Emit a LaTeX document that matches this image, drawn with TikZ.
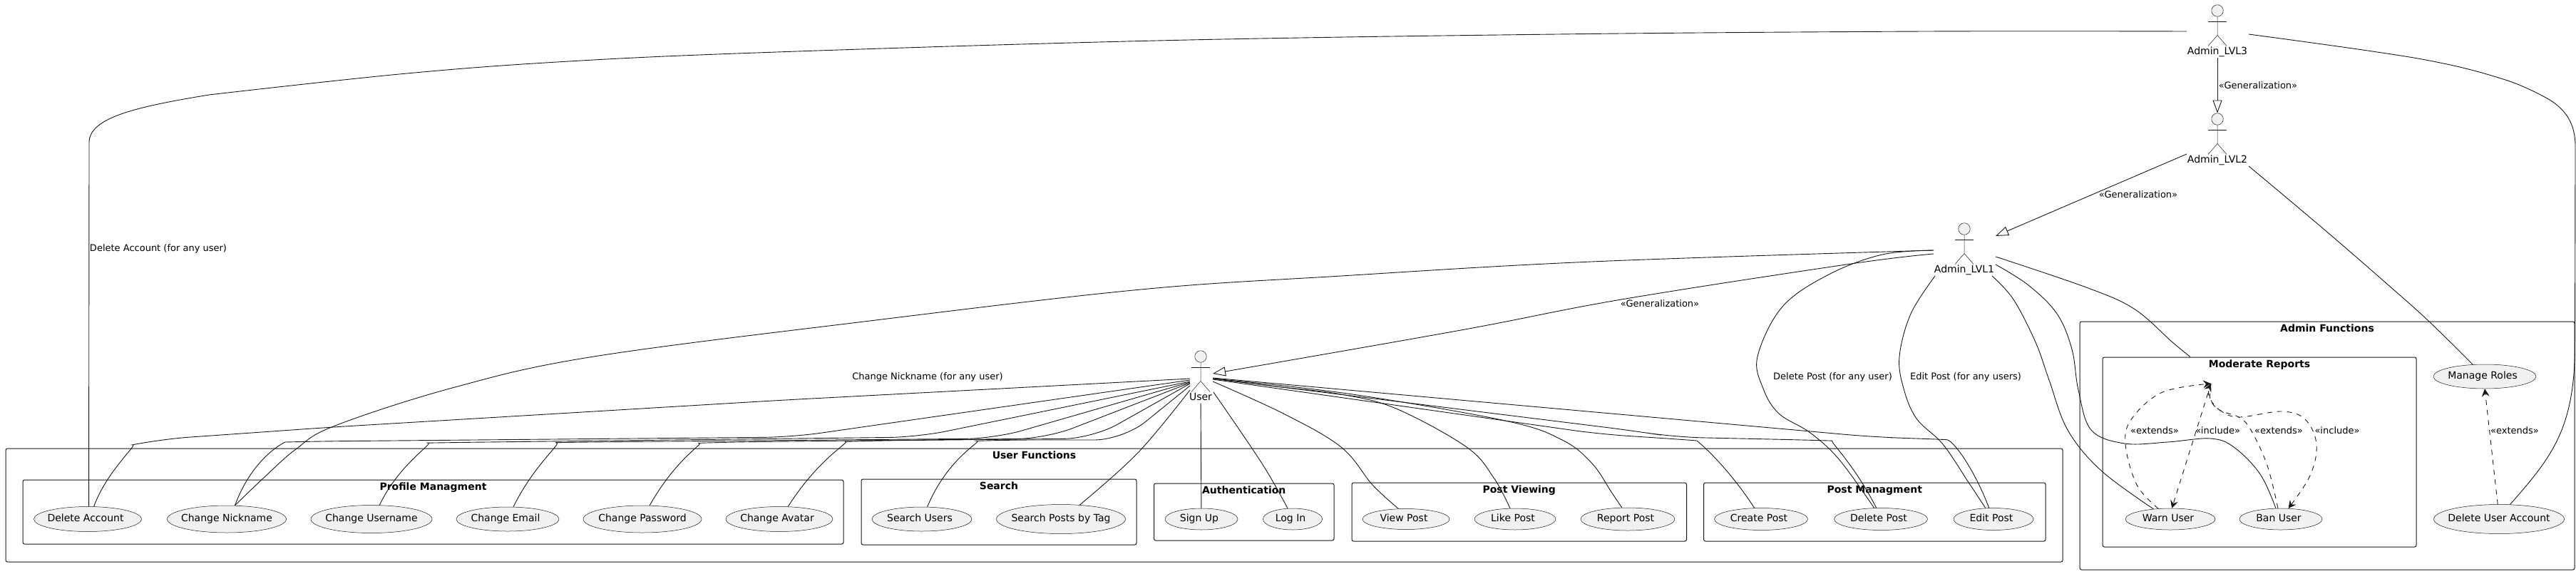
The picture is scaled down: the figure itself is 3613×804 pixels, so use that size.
\documentclass[tikz,border=0pt]{standalone}
\usepackage{fontspec}
\setmainfont{DejaVu Sans}
\usepackage{xcolor}
\usepackage{tikz}
\usetikzlibrary{shapes.geometric,arrows.meta,positioning,calc}
\definecolor{umlline}{HTML}{181818}
\definecolor{umlfill}{HTML}{F1F1F1}

% name, x, y of head, label
\newcommand{\actor}[4]{
    \node[actorhead] (#1Head) at (#2,#3) {};
    \draw[stick] (#1Head.south) -- ++(0,26) coordinate (#1Hip) -- ++(-13,15) (#1Hip) -- ++(13,15);
    \draw[stick] (#1Hip) ++(-13,-19) -- ++(26,0);
    \node[actorlabel] (#1Label) at ($(#1Head)+(0,58)$) {#4};
}

\begin{document}
\begin{tikzpicture}[
        x=1pt, y=-1pt,
        frame/.style 2 args={rectangle, draw=umlline, line width=1pt, rounded corners=2.5pt, minimum width=#1pt, minimum height=#2pt, inner sep=0pt},
        frametitle/.style={font=\fontsize{14}{16}\selectfont\bfseries, text=black, inner sep=0pt, text height=10pt, text depth=3pt},
        usecase/.style 2 args={ellipse, draw=umlline, line width=0.5pt, fill=umlfill, minimum width=#1pt, minimum height=#2pt, inner xsep=-40pt, inner ysep=-8pt, font=\fontsize{14}{16}\selectfont, text height=10pt, text depth=3pt},
        smallcase/.style 2 args={usecase={#1}{#2}, execute at end node={\kern6pt}},
        actorhead/.style={circle, draw=umlline, line width=0.5pt, fill=umlfill, minimum size=16.5pt, inner sep=0pt},
        stick/.style={draw=umlline, line width=0.5pt},
        actorlabel/.style={font=\fontsize{14}{16}\selectfont, inner sep=1pt, text height=10pt, text depth=3pt},
        edgelabel/.style={font=\fontsize{13}{15}\selectfont, inner sep=0pt, text height=10pt, text depth=3pt},
        usage/.style={draw=umlline, line width=0.9pt, smooth, tension=0.6},
        band/.style={usage, rounded corners=40pt},
        general/.style={usage, -{Triangle[open,length=18pt,width=13pt]}},
        dep/.style={usage, dash pattern=on 7pt off 7pt, -{Stealth[length=11pt,width=11pt,inset=4pt]}},
        node distance=5pt
    ]
    \useasboundingbox (0,0) rectangle (3613,804);

    % frames
    \node[frame={2885}{159}] (userFunctions) at (1450.5,708.5) {};
    \node[frame={1151}{90}] (profileFrame) at (607.5,718) {};
    \node[frame={386}{92}] (searchFrame) at (1401,718) {};
    \node[frame={252.5}{80}] (authFrame) at (1744.75,718) {};
    \node[frame={469.5}{82}] (viewingFrame) at (2130.75,718) {};
    \node[frame={479.5}{82}] (postFrame) at (2629.25,718) {};
    \node[frame={694}{348}] (adminFrame) at (3264,625) {};
    \node[frame={440}{266}] (moderateFrame) at (3169,634) {};
    \coordinate (moderateHub) at (3101,538);

    \node[frametitle, below=of userFunctions.north] (userTitle) {User Functions};
    \node[frametitle, below=of profileFrame.north] (profileTitle) {Profile Managment};
    \node[frametitle, below=of searchFrame.north] (searchTitle) {Search};
    \node[frametitle, below=of authFrame.north] (authTitle) {Authentication};
    \node[frametitle, below=of viewingFrame.north] (viewingTitle) {Post Viewing};
    \node[frametitle, below=of postFrame.north] (postTitle) {Post Managment};
    \node[frametitle, below=of adminFrame.north] (adminTitle) {Admin Functions};
    \node[frametitle, below=of moderateFrame.north] (moderateTitle) {Moderate Reports};

    % use cases
    \node[smallcase={151}{35}] (deleteAccount) at (123,728) {Delete Account};
    \node[usecase={167}{38}] (changeNickname) at (318,728) {Change Nickname};
    \node[usecase={170}{39}] (changeUsername) at (521,728) {Change Username};
    \node[smallcase={144}{34}] (changeEmail) at (712,728) {Change Email};
    \node[usecase={166}{38}] (changePassword) at (901,728) {Change Password};
    \node[smallcase={150}{35}] (changeAvatar) at (1093,728) {Change Avatar};
    \node[smallcase={140}{34}] (searchUsers) at (1293,728) {Search Users};
    \node[usecase={181}{41}] (searchTag) at (1488,728) {Search Posts by Tag};
    \node[smallcase={102}{30}] (signUp) at (1685,728) {Sign Up};
    \node[smallcase={83}{30}] (logIn) at (1813,728) {Log In};
    \node[smallcase={122}{29}] (viewPost) at (1972,728) {View Post};
    \node[smallcase={114}{30}] (likePost) at (2125,728) {Like Post};
    \node[smallcase={132}{32}] (reportPost) at (2283,728) {Report Post};
    \node[smallcase={131}{31}] (createPost) at (2470,728) {Create Post};
    \node[smallcase={131}{31}] (deletePost) at (2638,728) {Delete Post};
    \node[smallcase={112}{31}] (editPost) at (2796,728) {Edit Post};
    \node[smallcase={126}{30}] (warnUser) at (3044,728) {Warn User};
    \node[smallcase={116}{30}] (banUser) at (3199,728) {Ban User};
    \node[smallcase={144}{34}] (manageRoles) at (3485,528) {Manage Roles};
    \node[usecase={183}{41}] (deleteUserAccount) at (3505,728) {Delete User Account};

    % actors
    \actor{user}{1684}{500}{User}
    \actor{adminOne}{2755}{321}{Admin\_LVL1}
    \actor{adminTwo}{3110}{167}{Admin\_LVL2}
    \actor{adminThree}{3110}{15}{Admin\_LVL3}

    % user connectors
    \draw[band] (1669,531) -- (1100,561) -- (466,599) -- (225,616) [sharp corners] .. controls (195,622) and (150,660) .. (deleteAccount.64);
    \draw[band] (1669,533) -- (1111,613) -- (440,619) [sharp corners] .. controls (400,620) and (355,640) .. (changeNickname.59);
    \draw[band] (1669,535) -- (1287,613) -- (640,620.5) [sharp corners] .. controls (610,621) and (560,650) .. (changeUsername.60);
    \draw[band] (1669,536) -- (1395,615) -- (820,620) [sharp corners] .. controls (790,620.5) and (750,650) .. (changeEmail.65);
    \draw[band] (1669,537) -- (1467,615) -- (1020,620) [sharp corners] .. controls (990,621) and (950,640) .. (changePassword.62);
    \draw[band] (1669,538) -- (1532,615) -- (1225,618) [sharp corners] .. controls (1195,619) and (1150,640) .. (changeAvatar.55);
    \draw[band] (1669,541) -- (1575,617) -- (1410,617) [sharp corners] .. controls (1380,618) and (1330,640) .. (searchUsers.66);
    \draw[usage] plot coordinates {(1669,547) (1596,635) (searchTag.37)};
    \draw[usage] (userLabel) -- (signUp);
    \draw[usage] plot coordinates {(1702,550) (1770,650) (logIn.115)};
    \draw[usage] plot coordinates {(1701,535) (1800,580) (1881,627) (1925,680) (viewPost.126)};
    \draw[usage] plot coordinates {(1701,531) (1790,542) (1881,553) (1958,573) (2057,627) (2095,670) (likePost.115)};
    \draw[usage] plot coordinates {(1701,531) (1890,552) (2111,590) (2191,617) (2233,650) (2260,690) (reportPost.117)};
    \draw[band] (1701,532) -- (2245,609) -- (2340,615) [sharp corners] .. controls (2380,618) and (2420,650) .. (createPost.121);
    \draw[band] (1701,531) -- (2290,604) -- (2348,613) -- (2530,617) [sharp corners] .. controls (2565,618) and (2600,650) .. (deletePost.112);
    \draw[band] (1701,530) -- (2629,613) -- (2690,615) [sharp corners] .. controls (2740,617) and (2770,660) .. (editPost.112);

    % admin connectors
    \draw[usage] plot coordinates {(3067,44) (2700,44) (2184,48) (1622,57) (1061,74) (781,87) (560,104) (293,133)} .. controls (190,150) and (125,165) .. (125,200) -- (deleteAccount.85);
    \draw[usage] plot coordinates {(3154,48) (3391,82) (3514,112) (3576,140)} .. controls (3600,155) and (3612,175) .. (3612,205) -- (3611.5,480) .. controls (3612,600) and (3580,640) .. (deleteUserAccount.53);
    \draw[general] (adminThreeLabel) -- (adminTwoHead);
    \draw[general] (3067,216) -- (2799,331);
    \draw[usage] plot coordinates {(3154,233) (3260,322) (3350,400) (3406,450) (manageRoles.135)};
    \draw[general] plot coordinates {(2712,356) (2596,370) (2274,420) (2049,463) (1701,524)};
    \draw[usage] plot coordinates {(2712,351) (2232,367) (1881,387) (1600,406) (1220,450) (833,500) (638,543) (470,597) (415,630) (370,670) (changeNickname.59)};
    \draw[usage] plot coordinates {(2712,351) (2640,357) (2565,385) (2500,430) (2465,500) (2473,545) (2495,580) (2539,607) (2580,645) (deletePost.121)};
    \draw[usage] plot coordinates {(2714,387) (2680,440) (2664,500) (2670,545) (2688,587) (2725,623) (2760,675) (editPost.126)};
    \draw[usage] plot coordinates {(2794,387) (2824,420) (2855,480) (2874,533) (2900,603) (2947,660) (warnUser.149)};
    \draw[usage] plot coordinates {(2799,371) (2845,400) (2885,440) (2906,490) (2915,547) (2933,603) (2980,622) (3040,620) (3100,615) (3133,627) (3170,665) (banUser.115)};
    \draw[usage] plot coordinates {(2799,360) (2926,403) (2993,433) (3047,480) (moderateFrame.126)};

    % dependencies
    \draw[dep] plot coordinates {(warnUser.139) (2997,680) (2981,623) (2990,587) (3033,550) (moderateHub)};
    \draw[dep] (moderateHub) -- (warnUser.82);
    \draw[dep] plot coordinates {(banUser.105) (3180,653) (3157,603) (3140,585) (3113,575) (3098,555) (moderateHub)};
    \draw[dep] plot coordinates {(moderateHub) (3100,560) (3113,575) (3140,585) (3200,577) (3233,588) (3249,623) (3240,667) (banUser.55)};
    \draw[dep] (deleteUserAccount.95) -- (manageRoles.south);

    % edge labels
    \node[edgelabel] (deleteAccountNote) at (222,349) {Delete Account (for any user)};
    \node[edgelabel] (changeNicknameNote) at (1301,529) {Change Nickname (for any user)};
    \node[edgelabel] (deletePostNote) at (2570.5,529) {Delete Post (for any user)};
    \node[edgelabel] (editPostNote) at (2757,529) {Edit Post (for any users)};
    \node[edgelabel] (generalUser) at (2328,427) {«Generalization»};
    \node[edgelabel] (generalOne) at (2999,274) {«Generalization»};
    \node[edgelabel] (generalTwo) at (3167,121) {«Generalization»};
    \node[edgelabel] (extendsWarn) at (3022,605) {«extends»};
    \node[edgelabel] (includeWarn) at (3110.5,605) {«include»};
    \node[edgelabel] (extendsBan) at (3196,605) {«extends»};
    \node[edgelabel] (includeBan) at (3278,605) {«include»};
    \node[edgelabel] (extendsRoles) at (3527,605) {«extends»};
\end{tikzpicture}
\end{document}
